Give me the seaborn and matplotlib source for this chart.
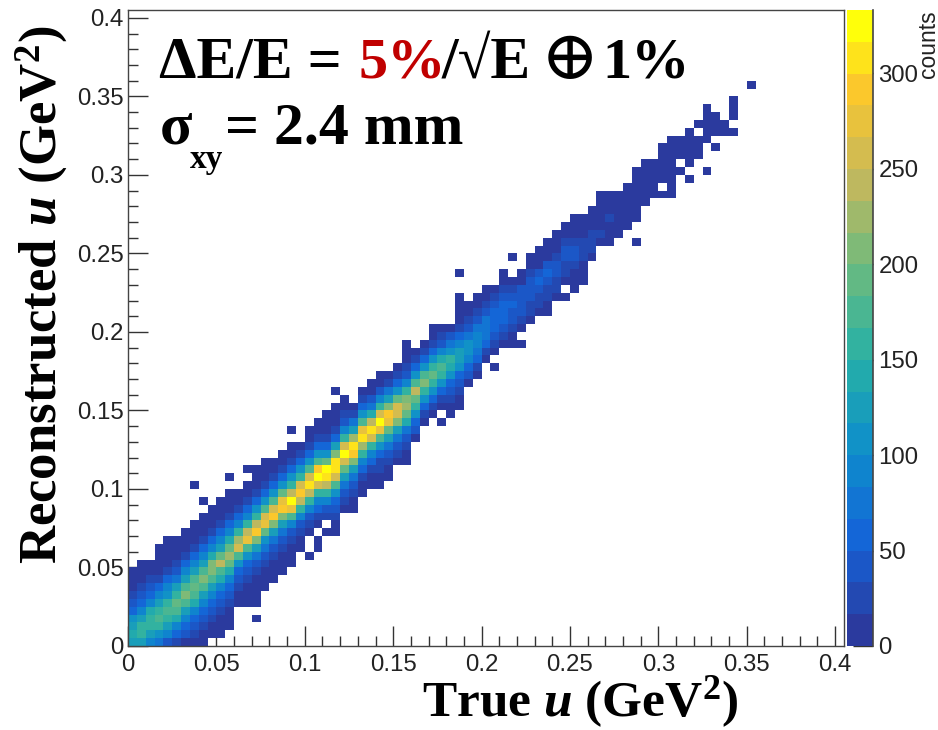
# -*- coding: utf-8 -*-
import numpy as np
import pandas as pd
import seaborn as sns
from matplotlib import pyplot as plt
from matplotlib.colors import LinearSegmentedColormap

#first filled row of each true-u column (bin width 0.005)
col_start = [0, 0, 0, 0, 0, 0, 0, 0, 0, 1, 1, 2, 5, 5, 3, 7, 8, 9, 10, 12,
             11, 12, 14, 14, 17, 17, 19, 20, 20, 21, 23, 23, 26, 28, 29, 28, 29, 30, 33, 34,
             36, 35, 38, 38, 38, 41, 42, 42, 44, 44, 45, 46, 49, 51, 51, 52, 53, 51, 56, 57,
             57, 57, 60, 59, 62, 60, 63, 65, 65, 0, 71]

#counts going up each column
col_counts = [
    [130, 140, 120, 105, 60, 45, 25, 14, 9, 4],
    [120, 150, 150, 120, 95, 60, 40, 25, 12, 6, 3],
    [95, 125, 165, 160, 135, 95, 65, 35, 18, 8, 3],
    [80, 110, 150, 175, 155, 130, 90, 55, 32, 15, 8, 4, 2],
    [42, 85, 120, 165, 170, 150, 115, 85, 50, 28, 14, 7, 3, 2],
    [30, 55, 95, 135, 175, 190, 150, 120, 80, 48, 28, 15, 6, 3],
    [15, 38, 60, 95, 130, 175, 205, 180, 130, 85, 50, 30, 14, 7, 3],
    [8, 22, 38, 62, 90, 135, 170, 190, 175, 125, 85, 50, 28, 14, 6, 3, 0, 0, 0, 0, 2],
    [4, 12, 24, 38, 58, 90, 130, 175, 215, 180, 130, 85, 52, 28, 14, 6, 3, 0, 2],
    [10, 14, 24, 38, 60, 90, 130, 170, 215, 200, 135, 85, 52, 28, 15, 7, 3],
    [5, 8, 16, 26, 40, 62, 95, 135, 180, 240, 195, 130, 85, 50, 28, 14, 6, 3],
    [4, 8, 14, 24, 38, 60, 95, 135, 185, 225, 190, 135, 85, 52, 28, 14, 6, 3, 0, 2],
    [6, 12, 22, 36, 60, 100, 170, 255, 220, 150, 95, 55, 28, 12, 5],
    [3, 7, 12, 20, 35, 60, 100, 180, 270, 235, 155, 95, 55, 28, 12, 5, 0, 2],
    [2, 0, 2, 5, 9, 16, 28, 48, 80, 130, 205, 285, 240, 165, 100, 55, 28, 14, 6, 2],
    [4, 8, 15, 26, 42, 70, 115, 190, 280, 250, 170, 100, 55, 30, 14, 6, 2],
    [5, 9, 16, 26, 42, 70, 120, 205, 285, 265, 175, 105, 55, 28, 12, 4],
    [4, 8, 14, 26, 42, 72, 125, 215, 290, 270, 190, 110, 60, 28, 12, 4],
    [3, 7, 13, 25, 45, 90, 170, 270, 320, 240, 160, 100, 55, 28, 12, 4, 0, 2],
    [5, 12, 24, 45, 90, 165, 240, 290, 265, 165, 100, 52, 24, 8],
    [2, 0, 0, 8, 20, 42, 85, 150, 235, 300, 265, 170, 100, 52, 25, 10, 3],
    [3, 5, 0, 14, 32, 50, 85, 160, 250, 333, 285, 180, 105, 55, 25, 10, 3],
    [4, 0, 22, 42, 85, 155, 240, 310, 320, 195, 110, 55, 28, 12, 5, 2],
    [3, 8, 18, 35, 60, 110, 175, 250, 300, 310, 200, 120, 65, 30, 14, 6, 2, 0, 2],
    [5, 18, 40, 75, 125, 190, 265, 333, 250, 150, 90, 45, 20, 8, 2],
    [3, 8, 22, 40, 70, 120, 205, 290, 300, 225, 130, 70, 32, 10],
    [4, 12, 28, 50, 90, 150, 220, 300, 270, 180, 110, 55, 22, 6],
    [5, 14, 30, 55, 95, 165, 265, 315, 235, 145, 80, 35, 12, 3],
    [3, 9, 18, 32, 60, 105, 175, 275, 333, 255, 155, 85, 40, 15, 4],
    [6, 12, 22, 40, 70, 120, 190, 275, 290, 210, 130, 70, 32, 10],
    [10, 22, 42, 75, 130, 200, 260, 265, 185, 115, 60, 30, 10],
    [5, 12, 24, 45, 80, 135, 195, 230, 215, 150, 90, 48, 22, 8, 3, 2],
    [8, 35, 60, 100, 155, 195, 245, 175, 115, 65, 30, 8],
    [10, 28, 58, 100, 155, 205, 170, 105, 60, 28, 8],
    [8, 22, 50, 100, 160, 195, 160, 100, 55, 25, 10, 3],
    [2, 0, 14, 30, 60, 105, 155, 180, 135, 85, 45, 18, 6],
    [3, 8, 18, 35, 65, 105, 145, 150, 110, 70, 35, 12],
    [3, 10, 20, 38, 65, 100, 130, 130, 95, 55, 28, 12, 6, 3, 2, 0, 0, 2],
    [16, 35, 62, 90, 105, 100, 75, 42, 20, 8, 3],
    [14, 30, 55, 72, 90, 85, 68, 38, 18, 8, 3],
    [16, 32, 52, 70, 78, 70, 42, 18, 6, 2],
    [2, 0, 12, 24, 42, 58, 62, 55, 36, 18, 5],
    [10, 22, 35, 50, 56, 52, 38, 20, 7, 2],
    [6, 16, 25, 38, 48, 52, 44, 32, 10, 0, 0, 2],
    [3, 0, 14, 26, 38, 46, 48, 35, 14, 3],
    [14, 24, 32, 40, 46, 38, 18, 6, 2],
    [12, 22, 30, 34, 50, 38, 15, 6, 2],
    [4, 14, 26, 32, 42, 52, 34, 14, 6, 2],
    [12, 22, 32, 36, 42, 28, 14, 5, 2],
    [6, 0, 16, 26, 32, 42, 40, 18, 6, 2],
    [3, 8, 14, 26, 36, 42, 28, 12, 5, 2],
    [5, 10, 16, 24, 30, 26, 14, 7, 2],
    [12, 18, 22, 24, 16, 8, 3],
    [10, 24, 14, 15, 9, 4, 2],
    [5, 10, 14, 26, 14, 8, 3],
    [5, 10, 12, 14, 10, 3],
    [6, 8, 12, 13, 9, 3],
    [2, 0, 0, 6, 10, 12, 12, 9, 5, 2],
    [5, 9, 11, 12, 8, 3],
    [4, 9, 11, 10, 4],
    [3, 0, 6, 10, 9, 8, 2],
    [2, 3, 6, 8, 10, 8, 5, 2],
    [3, 0, 5, 7, 2],
    [2, 0, 3, 6, 8, 6, 2],
    [3, 6, 7, 0, 2],
    [2, 0, 0, 0, 4, 6, 5, 3, 2],
    [2, 0, 4, 5, 2],
    [3, 2],
    [2, 0, 2, 2, 2],
    [],
    [2],
]

n_bins = 81
bin_width = 0.005
major_vals = [0, 0.05, 0.1, 0.15, 0.2, 0.25, 0.3, 0.35, 0.4]
major_labels = ['0', '0.05', '0.1', '0.15', '0.2', '0.25', '0.3', '0.35', '0.4']
cbar_ticks = [0, 50, 100, 150, 200, 250, 300]

#root bird palette, 20 contours
bird = [(0, '#2b3a9e'), (0.15, '#1464d8'), (0.30, '#0e8fcb'), (0.45, '#27b0a6'),
        (0.60, '#6cbb7e'), (0.75, '#c6b85c'), (0.90, '#fdc92a'), (1, '#ffff0a')]
cmap = LinearSegmentedColormap.from_list('bird', bird).resampled(20)

sns.set_theme(style="white")
plt.rcParams['font.family'] = ['Liberation Sans', 'DejaVu Sans']
plt.rcParams['mathtext.fontset'] = 'custom'
plt.rcParams['mathtext.rm'] = 'Liberation Serif:bold'
plt.rcParams['mathtext.it'] = 'Liberation Serif:italic:bold'
plt.rcParams['mathtext.bf'] = 'Liberation Serif:bold'

grid = np.zeros((n_bins, n_bins))
for c, (start, vals) in enumerate(zip(col_start, col_counts)):
    for i, v in enumerate(vals):
        grid[start + i, c] = v
data = pd.DataFrame(grid)

fig = plt.figure(figsize=(9.38, 7.30), dpi=100)
ax = fig.add_axes([128/938, 84/730, 716/938, 636/730])
cax = fig.add_axes([847/938, 84/730, 26/938, 636/730])

sns.heatmap(data, mask=data == 0, cmap=cmap, vmin=0, vmax=333, ax=ax, cbar_ax=cax,
            xticklabels=False, yticklabels=False, linewidths=0, rasterized=True)
ax.invert_yaxis()

pos = np.array(major_vals) / bin_width
minor = np.arange(0, 0.4051, 0.01) / bin_width
for axis in (ax.xaxis, ax.yaxis):
    axis.set_ticks(pos)
    axis.set_ticklabels(major_labels)
    axis.set_ticks(minor, minor=True)
ax.tick_params(which='major', direction='in', length=14.4, width=1, color='#333333',
               labelsize=17.3, labelcolor='#222222', bottom=True, left=True)
ax.tick_params(axis='x', which='major', pad=6)
ax.tick_params(axis='y', which='major', pad=3)
ax.tick_params(which='minor', direction='in', length=7.2, width=1, color='#333333',
               bottom=True, left=True)
ax.set_xlabel('')
ax.set_ylabel('')
for s in ax.spines.values():
    s.set_visible(True)
    s.set_color('#444444')
    s.set_linewidth(1)

cax.yaxis.set_ticks(cbar_ticks)
cax.tick_params(direction='in', length=14.4, width=1, color='#333333', labelsize=17.3,
                pad=4, labelcolor='#222222', right=True)
for s in cax.spines.values():
    s.set_visible(False)
cax.spines['right'].set_visible(True)
cax.spines['right'].set_color('#444444')
cax.spines['right'].set_linewidth(1.2)

fig.text(928/938, 1 - 10/730, 'counts', rotation=90, ha='center', va='top', fontsize=16.5,
         color='#222222')

#annotation, drawn piece by piece because of the red part
serif = ['Liberation Serif', 'DejaVu Serif', 'DejaVu Sans']
def put(x, y, s, size=43, color='black', weight='bold'):
    fig.text(x/938, 1 - y/730, s, fontsize=size, color=color, family=serif,
             fontweight=weight, ha='left', va='baseline')

put(159, 78, '\u0394E/E =')
put(358, 78, '5%', size=42, color='#c00000')
put(442, 78, '/\u221aE')
put(541, 79, '\u2295', size=50, weight='normal')
put(602, 78, '1%', size=42)
put(160, 143, '\u03c3')
put(190, 168, 'xy', size=24)
put(225, 143, '= 2.4 mm')

fig.text(580/938, 1 - 716/730, r'True $\mathit{u}$ (GeV$^{\mathbf{2}}$)', fontsize=37,
         family=serif, fontweight='bold', ha='center', va='baseline', color='black')
fig.text(56/938, 1 - 295/730, r'Reconstructed $\mathit{u}$ (GeV$^{\mathbf{2}}$)', fontsize=38,
         family=serif, fontweight='bold', rotation=90, ha='center', va='baseline',
         rotation_mode='anchor', color='black')

fig.savefig('out.png', dpi=100)
